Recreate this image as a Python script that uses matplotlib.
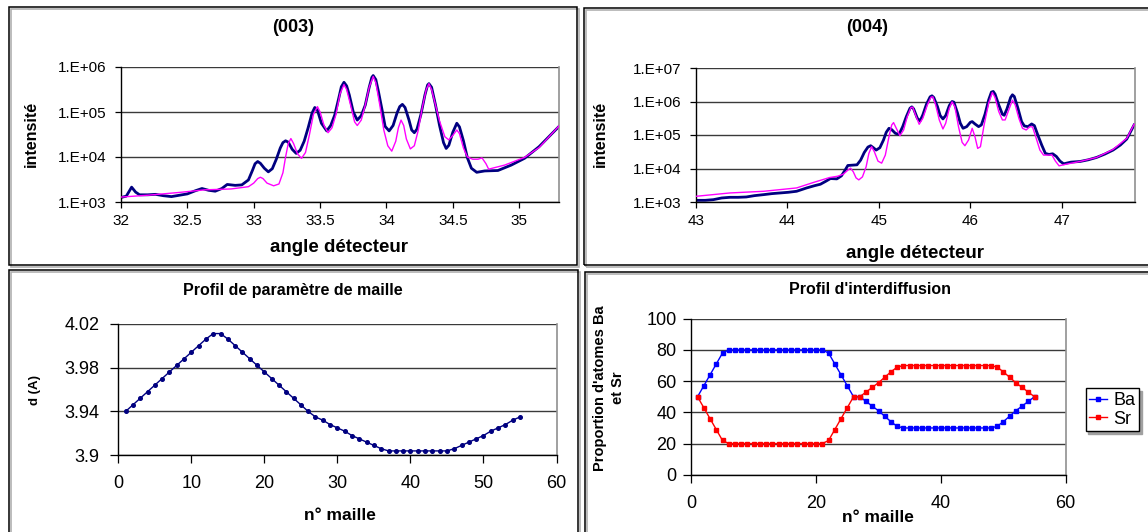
import numpy as np
import matplotlib
matplotlib.use('Agg')
import matplotlib.pyplot as plt
from matplotlib.patches import Rectangle
from matplotlib.ticker import FixedLocator, FixedFormatter, NullLocator

plt.rcParams['font.family'] = ['Liberation Sans', 'DejaVu Sans']

# ---------------- data: (003) reflection ----------------
angle_003_meas = [32.00, 32.04, 32.08, 32.11, 32.14, 32.20, 32.26, 32.32, 32.38, 32.44,
                  32.50, 32.56, 32.61, 32.66, 32.71, 32.76, 32.80, 32.86, 32.91, 32.96,
                  32.99, 33.01, 33.03, 33.05, 33.08, 33.11, 33.14, 33.17, 33.20, 33.22,
                  33.24, 33.26, 33.29, 33.32, 33.35, 33.38, 33.41, 33.44, 33.46, 33.48,
                  33.51, 33.55, 33.58, 33.61, 33.64, 33.66, 33.68, 33.70, 33.72, 33.75,
                  33.78, 33.81, 33.84, 33.87, 33.89, 33.90, 33.92, 33.94, 33.97, 33.99,
                  34.02, 34.05, 34.08, 34.10, 34.12, 34.14, 34.17, 34.19, 34.21, 34.23,
                  34.26, 34.29, 34.31, 34.32, 34.34, 34.37, 34.40, 34.43, 34.45, 34.47,
                  34.50, 34.53, 34.55, 34.58, 34.61, 34.64, 34.68, 34.74, 34.84, 34.94,
                  35.04, 35.15, 35.25, 35.30]
int_003_meas = [1259, 1349, 2138, 1660, 1445, 1445, 1479, 1380, 1318, 1413,
                1514, 1778, 1995, 1820, 1738, 1995, 2455, 2344, 2399, 3090,
                5012, 7079, 7943, 7244, 5623, 4677, 5495, 8913, 15850, 20890,
                22910, 21380, 14790, 12020, 14130, 22390, 44670, 95500, 125900, 109600,
                56230, 38020, 50120, 85110, 199500, 363100, 457100, 380200, 239900, 100000,
                66070, 83180, 141300, 354800, 588800, 645700, 524800, 281800, 100000, 47860,
                38020, 50120, 95500, 131800, 147900, 125900, 66070, 39810, 34670, 41690,
                89130, 239900, 398100, 426600, 354800, 141300, 50120, 20890, 15490, 18200,
                35480, 56230, 46770, 22910, 9550, 5623, 4571, 4898, 5012, 6607,
                9333, 16980, 33880, 47860]
angle_003_sim = [32.00, 32.20, 32.43, 32.63, 32.83, 32.96, 33.00, 33.03, 33.05, 33.07,
                 33.10, 33.15, 33.19, 33.22, 33.24, 33.26, 33.28, 33.30, 33.33, 33.36,
                 33.39, 33.42, 33.45, 33.48, 33.50, 33.53, 33.56, 33.59, 33.62, 33.65,
                 33.68, 33.70, 33.73, 33.76, 33.78, 33.81, 33.84, 33.87, 33.90, 33.92,
                 33.95, 33.98, 34.01, 34.04, 34.07, 34.09, 34.11, 34.13, 34.15, 34.18,
                 34.21, 34.24, 34.27, 34.30, 34.32, 34.34, 34.37, 34.40, 34.44, 34.47,
                 34.50, 34.53, 34.55, 34.58, 34.61, 34.65, 34.69, 34.72, 34.75, 34.77,
                 34.89, 35.04, 35.15, 35.30]
int_003_sim = [1288, 1413, 1622, 1862, 1950, 2188, 2630, 3311, 3548, 3311,
               2630, 2291, 2512, 4467, 10000, 19950, 25700, 19950, 11750, 9333,
               12590, 31620, 89130, 131800, 100000, 50120, 34670, 44670, 89130, 251200,
               407400, 316200, 141300, 60260, 50120, 66070, 141300, 354800, 616600, 446700,
               141300, 39810, 17780, 13490, 22390, 44670, 66070, 50120, 25120, 15140,
               17780, 39810, 125900, 316200, 426600, 316200, 141300, 63100, 28180, 23990,
               30200, 39810, 33110, 15850, 10000, 8913, 8913, 9550, 7079, 5370,
               6607, 9772, 16220, 48980]

# ---------------- data: (004) reflection ----------------
angle_004_meas = [43.00, 43.10, 43.19, 43.28, 43.37, 43.46, 43.55, 43.64, 43.74, 43.83,
                  43.92, 44.01, 44.10, 44.21, 44.30, 44.36, 44.42, 44.47, 44.54, 44.59,
                  44.63, 44.66, 44.71, 44.76, 44.80, 44.84, 44.88, 44.91, 44.94, 44.97,
                  45.01, 45.05, 45.08, 45.11, 45.14, 45.18, 45.22, 45.26, 45.30, 45.34,
                  45.36, 45.38, 45.42, 45.45, 45.48, 45.52, 45.56, 45.58, 45.60, 45.64,
                  45.67, 45.70, 45.73, 45.77, 45.80, 45.82, 45.86, 45.89, 45.92, 45.96,
                  46.00, 46.02, 46.05, 46.09, 46.12, 46.16, 46.20, 46.23, 46.25, 46.27,
                  46.31, 46.35, 46.37, 46.40, 46.44, 46.46, 46.48, 46.52, 46.56, 46.59,
                  46.63, 46.67, 46.70, 46.74, 46.78, 46.82, 46.86, 46.90, 46.94, 46.98,
                  47.02, 47.10, 47.20, 47.29, 47.38, 47.47, 47.56, 47.64, 47.71, 47.79]
int_004_meas = [1122, 1122, 1175, 1318, 1380, 1380, 1413, 1549, 1660, 1778,
                1862, 1950, 2089, 2630, 3090, 3388, 4169, 5012, 4898, 6026,
                8913, 12300, 12590, 12880, 17780, 30200, 43650, 47860, 41690, 35480,
                41690, 70790, 120200, 158500, 144500, 112200, 104700, 177800, 354800, 631000,
                691800, 602600, 316200, 263000, 398100, 831800, 1380000, 1479000, 1318000, 707900,
                380200, 302000, 380200, 758600, 1000000, 955000, 446700, 223900, 158500, 177800,
                239900, 251200, 213800, 177800, 199500, 416900, 1122000, 1905000, 1995000, 1660000,
                794300, 416900, 389000, 602600, 1318000, 1585000, 1413000, 631000, 251200, 186200,
                177800, 213800, 190500, 95500, 50120, 28180, 26300, 27540, 22910, 16600,
                13800, 15490, 16220, 18200, 21380, 26920, 35480, 50120, 75860, 199500]
angle_004_sim = [43.00, 43.37, 43.74, 44.10, 44.28, 44.46, 44.55, 44.61, 44.66, 44.69,
                 44.72, 44.75, 44.78, 44.82, 44.86, 44.89, 44.92, 44.95, 44.99, 45.03,
                 45.07, 45.11, 45.14, 45.16, 45.19, 45.23, 45.27, 45.31, 45.35, 45.37,
                 45.40, 45.44, 45.48, 45.53, 45.57, 45.59, 45.62, 45.66, 45.70, 45.73,
                 45.77, 45.80, 45.83, 45.87, 45.91, 45.94, 45.98, 46.02, 46.05, 46.08,
                 46.11, 46.15, 46.20, 46.24, 46.27, 46.31, 46.35, 46.38, 46.42, 46.46,
                 46.49, 46.53, 46.57, 46.61, 46.65, 46.68, 46.72, 46.76, 46.80, 46.86,
                 46.89, 46.93, 46.97, 47.05, 47.20, 47.38, 47.56, 47.71, 47.79]
int_004_sim = [1479, 1862, 2089, 2630, 3802, 5370, 5888, 6761, 8913, 10230,
               7943, 5248, 4571, 5623, 11220, 28180, 44670, 31620, 16600, 14450,
               25120, 89130, 199500, 234400, 158500, 95500, 141300, 354800, 660700, 676100,
               398100, 208900, 316200, 794300, 1349000, 1380000, 794300, 281800, 151400, 223900,
               631000, 977200, 707900, 177800, 60260, 47860, 70790, 158500, 89130, 39810,
               44670, 199500, 891300, 1862000, 1318000, 501200, 281800, 281800, 562300, 1096000,
               794300, 316200, 158500, 141300, 177800, 173800, 79430, 35480, 25120, 25120,
               25700, 16600, 12020, 13490, 16220, 21380, 37150, 79430, 208900]

# ---------------- data: lattice parameter profile ----------------
cell_index = list(range(1, 56))
d_param = [3.940, 3.946, 3.952, 3.958, 3.964, 3.970, 3.976, 3.982, 3.988, 3.994,
           4.000, 4.006, 4.011, 4.011, 4.006, 4.000, 3.994, 3.988, 3.982, 3.976,
           3.970, 3.964, 3.958, 3.952, 3.946, 3.940, 3.935, 3.932, 3.928, 3.925,
           3.922, 3.918, 3.915, 3.912, 3.909, 3.906, 3.904, 3.904, 3.904, 3.904,
           3.904, 3.904, 3.904, 3.904, 3.904, 3.906, 3.909, 3.912, 3.915, 3.918,
           3.922, 3.925, 3.928, 3.932, 3.935]

# ---------------- data: interdiffusion profile ----------------
ba_prop = [50, 57, 64, 71, 78, 80, 80, 80, 80, 80,
           80, 80, 80, 80, 80, 80, 80, 80, 80, 80,
           80, 78, 71, 64, 57, 50, 50, 47, 44, 41,
           37.5, 34, 31, 30, 30, 30, 30, 30, 30, 30,
           30, 30, 30, 30, 30, 30, 30, 30, 31, 34,
           37.5, 41, 44, 47, 50]
sr_prop = [50, 43, 36, 29, 22, 20, 20, 20, 20, 20,
           20, 20, 20, 20, 20, 20, 20, 20, 20, 20,
           20, 22, 29, 36, 43, 50, 50, 53, 56, 59,
           62.5, 66, 69, 70, 70, 70, 70, 70, 70, 70,
           70, 70, 70, 70, 70, 70, 70, 70, 69, 66,
           62.5, 59, 56, 53, 50]

# ---------------- tick labels ----------------
xt_003 = [32, 32.5, 33, 33.5, 34, 34.5, 35]
xt_003_lab = ['32', '32.5', '33', '33.5', '34', '34.5', '35']
yt_003 = [1e3, 1e4, 1e5, 1e6]
yt_003_lab = ['1.E+03', '1.E+04', '1.E+05', '1.E+06']
xt_004 = [43, 44, 45, 46, 47]
xt_004_lab = ['43', '44', '45', '46', '47']
yt_004 = [1e3, 1e4, 1e5, 1e6, 1e7]
yt_004_lab = ['1.E+03', '1.E+04', '1.E+05', '1.E+06', '1.E+07']
xt_d = [0, 10, 20, 30, 40, 50, 60]
yt_d = [3.9, 3.94, 3.98, 4.02]
yt_d_lab = ['3.9', '3.94', '3.98', '4.02']
xt_p = [0, 20, 40, 60]
yt_p = [0, 20, 40, 60, 80, 100]

NAVY = '#000080'
MAG = '#FF00FF'

W, H = 1148, 532
fig = plt.figure(figsize=(W / 100, H / 100), dpi=100)


def ax_at(l, t, r, b):
    return fig.add_axes([l / W, 1 - b / H, (r - l) / W, (b - t) / H])


def ftext(x, y, s, **kw):
    fig.text(x / W, 1 - y / H, s, **kw)


def box(l, t, r, b):
    sh = Rectangle((l / W + 2 / W, 1 - b / H - 2 / H), (r - l) / W, (b - t) / H,
                   transform=fig.transFigure, fill=False, edgecolor='#b0b0b0',
                   lw=1.2, zorder=0)
    fig.patches.append(sh)
    rc = Rectangle((l / W, 1 - b / H), (r - l) / W, (b - t) / H,
                   transform=fig.transFigure, fill=False, edgecolor='black',
                   lw=1.1, zorder=1)
    fig.patches.append(rc)


box(9, 7, 577, 265)
box(584, 8, 1160, 265)
box(9, 270, 578, 545)
box(585, 272, 1160, 545)


def style(ax, fs, xpad, ypad, tlen):
    ax.spines['top'].set_visible(False)
    ax.spines['right'].set_color('#909090')
    ax.spines['right'].set_linewidth(1.2)
    for s in ('left', 'bottom'):
        ax.spines[s].set_color('black')
        ax.spines[s].set_linewidth(1.0)
    ax.tick_params(direction='out', length=tlen, width=0.9, labelsize=fs,
                   colors='black')
    ax.tick_params(axis='x', pad=xpad)
    ax.tick_params(axis='y', pad=ypad)
    ax.grid(axis='y', color='#3a3a3a', lw=1.0)
    ax.grid(axis='x', visible=False)
    ax.set_axisbelow(True)


# ---- (003) ----
a1 = ax_at(121, 67, 559, 202)
a1.plot(angle_003_meas, int_003_meas, color=NAVY, lw=2.0, zorder=2,
        solid_joinstyle='round')
a1.plot(angle_003_sim, int_003_sim, color=MAG, lw=1.0, zorder=3)
a1.set_yscale('log')
a1.set_xlim(32, 35.3)
a1.set_ylim(1e3, 1e6)
a1.xaxis.set_major_locator(FixedLocator(xt_003))
a1.xaxis.set_major_formatter(FixedFormatter(xt_003_lab))
a1.yaxis.set_major_locator(FixedLocator(yt_003))
a1.yaxis.set_major_formatter(FixedFormatter(yt_003_lab))
a1.yaxis.set_minor_locator(NullLocator())
style(a1, 11, 4, 6, 4.5)
ftext(293, 27, '(003)', ha='center', va='center', fontsize=13, fontweight='bold')
ftext(339, 247, 'angle détecteur', ha='center', va='center', fontsize=13.5, fontweight='bold')
ftext(31, 134, 'intensité', ha='center', va='center', rotation=90, fontsize=11.5, fontweight='bold')

# ---- (004) ----
a2 = ax_at(696, 68, 1135, 202)
a2.plot(angle_004_meas, int_004_meas, color=NAVY, lw=2.0, zorder=2,
        solid_joinstyle='round')
a2.plot(angle_004_sim, int_004_sim, color=MAG, lw=1.0, zorder=3)
a2.set_yscale('log')
a2.set_xlim(43, 47.8)
a2.set_ylim(1e3, 1e7)
a2.xaxis.set_major_locator(FixedLocator(xt_004))
a2.xaxis.set_major_formatter(FixedFormatter(xt_004_lab))
a2.yaxis.set_major_locator(FixedLocator(yt_004))
a2.yaxis.set_major_formatter(FixedFormatter(yt_004_lab))
a2.yaxis.set_minor_locator(NullLocator())
style(a2, 11, 4, 6, 4.5)
ftext(867, 27, '(004)', ha='center', va='center', fontsize=13, fontweight='bold')
ftext(915, 253, 'angle détecteur', ha='center', va='center', fontsize=13.5, fontweight='bold')
ftext(600, 134, 'intensité', ha='center', va='center', rotation=90, fontsize=11.5, fontweight='bold')

# ---- lattice parameter ----
a3 = ax_at(118.3, 323.7, 556.5, 455.3)
a3.plot(cell_index, d_param, color=NAVY, lw=1.0, marker='o', markersize=2.6,
        markerfacecolor=NAVY, markeredgecolor=NAVY, zorder=3)
a3.set_xlim(0, 60)
a3.set_ylim(3.9, 4.02)
a3.xaxis.set_major_locator(FixedLocator(xt_d))
a3.yaxis.set_major_locator(FixedLocator(yt_d))
a3.yaxis.set_major_formatter(FixedFormatter(yt_d_lab))
style(a3, 13, 9, 8, 5.5)
ftext(293, 290, 'Profil de paramètre de maille', ha='center', va='center', fontsize=11.5, fontweight='bold')
ftext(340, 515, 'n° maille', ha='center', va='center', fontsize=12.5, fontweight='bold')
ftext(35, 390, 'd (A)', ha='center', va='center', rotation=90, fontsize=9.5, fontweight='bold')

# ---- interdiffusion ----
a4 = ax_at(691.3, 318.7, 1065.7, 474.8)
a4.plot(cell_index, ba_prop, color='#0000FF', lw=1.0, marker='s', markersize=2.2,
        markerfacecolor='#0000FF', markeredgecolor='#0000FF', zorder=3, label='Ba')
a4.plot(cell_index, sr_prop, color='#FF0000', lw=1.0, marker='s', markersize=2.2,
        markerfacecolor='#FF0000', markeredgecolor='#FF0000', zorder=3, label='Sr')
a4.set_xlim(0, 60)
a4.set_ylim(0, 100)
a4.xaxis.set_major_locator(FixedLocator(xt_p))
a4.yaxis.set_major_locator(FixedLocator(yt_p))
style(a4, 13, 9, 5, 5.5)
ftext(870, 290, "Profil d'interdiffusion", ha='center', va='center', fontsize=11.5, fontweight='bold')
ftext(878, 518, 'n° maille', ha='center', va='center', fontsize=12.5, fontweight='bold')
ftext(609, 388, "Proportion d'atomes Ba\net Sr", ha='center', va='center', rotation=90,
      fontsize=10.5, fontweight='bold', linespacing=1.45, multialignment='center')

leg = a4.legend(loc='upper left', bbox_to_anchor=(1085.7 / W, 1 - 388.3 / H),
                bbox_transform=fig.transFigure, frameon=True, fancybox=False,
                shadow={'color': '#a0a0a0', 'alpha': 1.0}, fontsize=13,
                handlelength=1.0, handletextpad=0.35, borderpad=0.2,
                labelspacing=0.1, borderaxespad=0)
leg.get_frame().set_edgecolor('black')
leg.get_frame().set_linewidth(1.0)

fig.savefig('out.png', dpi=100)
